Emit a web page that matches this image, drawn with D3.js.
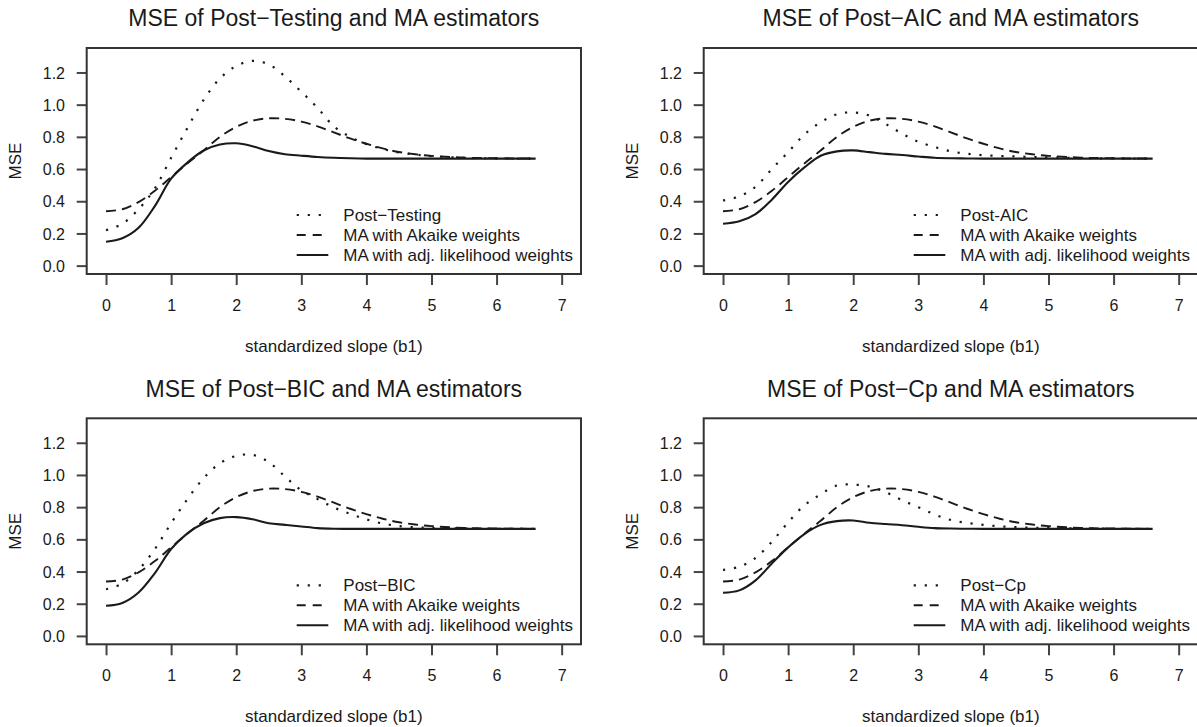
<!DOCTYPE html>
<html>
<head>
<meta charset="utf-8">
<script src="https://cdn.jsdelivr.net/npm/d3@7"></script>
<style>
  body { margin: 0; background: #fff; }
  svg { display: block; font-family: 'Liberation Sans', Arial, sans-serif; }
</style>
</head>
<body>
<svg id="chart"></svg>
<script>
// standardized slope values where the MSE curves were read
const slopeGrid = [0, 0.25, 0.5, 0.75, 1, 1.25, 1.5, 1.75, 2, 2.25, 2.5, 2.75, 3,
  3.25, 3.5, 3.75, 4, 4.25, 4.5, 4.75, 5, 5.5, 6, 6.6];

// MA with Akaike weights (same in all four panels)
const akaikeMSE = [0.338, 0.35, 0.395, 0.465, 0.55, 0.635, 0.715, 0.8, 0.862, 0.9, 0.915, 0.912, 0.895,
  0.865, 0.828, 0.79, 0.757, 0.728, 0.706, 0.692, 0.682, 0.671, 0.667, 0.665];

const testingMSE = [0.22, 0.26, 0.35, 0.48, 0.67, 0.855, 1.03, 1.163, 1.24, 1.272, 1.25, 1.175, 1.08,
  0.98, 0.865, 0.8, 0.755, 0.725, 0.703, 0.69, 0.68, 0.67, 0.666, 0.665];
const testingAdjMSE = [0.148, 0.17, 0.235, 0.37, 0.54, 0.64, 0.715, 0.752, 0.76, 0.742, 0.712, 0.692, 0.683,
  0.675, 0.67, 0.667, 0.665, 0.665, 0.665, 0.665, 0.665, 0.665, 0.665, 0.665];

const aicMSE = [0.405, 0.43, 0.49, 0.6, 0.705, 0.815, 0.89, 0.94, 0.952, 0.932, 0.88, 0.82, 0.77,
  0.737, 0.71, 0.695, 0.686, 0.681, 0.678, 0.675, 0.672, 0.668, 0.666, 0.665];
const aicAdjMSE = [0.26, 0.275, 0.32, 0.41, 0.52, 0.61, 0.683, 0.71, 0.716, 0.705, 0.694, 0.687, 0.678,
  0.67, 0.667, 0.666, 0.665, 0.665, 0.665, 0.665, 0.665, 0.665, 0.665, 0.665];

const bicMSE = [0.29, 0.325, 0.41, 0.54, 0.7, 0.85, 0.98, 1.073, 1.118, 1.125, 1.08, 0.99, 0.905,
  0.85, 0.798, 0.758, 0.724, 0.698, 0.683, 0.675, 0.671, 0.667, 0.665, 0.665];
const bicAdjMSE = [0.187, 0.205, 0.27, 0.39, 0.54, 0.637, 0.7, 0.732, 0.738, 0.725, 0.7, 0.69, 0.68,
  0.67, 0.666, 0.665, 0.665, 0.665, 0.665, 0.665, 0.665, 0.665, 0.665, 0.665];

const cpMSE = [0.41, 0.43, 0.485, 0.585, 0.705, 0.812, 0.88, 0.935, 0.94, 0.928, 0.893, 0.843, 0.8,
  0.755, 0.72, 0.702, 0.69, 0.681, 0.676, 0.672, 0.67, 0.667, 0.666, 0.665];
const cpAdjMSE = [0.268, 0.283, 0.345, 0.45, 0.55, 0.633, 0.69, 0.713, 0.717, 0.703, 0.695, 0.688, 0.678,
  0.67, 0.667, 0.666, 0.665, 0.665, 0.665, 0.665, 0.665, 0.665, 0.665, 0.665];

const panelTitles = [
  'MSE of Post\u2212Testing and MA estimators',
  'MSE of Post\u2212AIC and MA estimators',
  'MSE of Post\u2212BIC and MA estimators',
  'MSE of Post\u2212Cp and MA estimators'
];
const postLabels = ['Post\u2212Testing', 'Post-AIC', 'Post\u2212BIC', 'Post\u2212Cp'];
const maLabels = ['MA with Akaike weights', 'MA with adj. likelihood weights'];
const postSeries = [testingMSE, aicMSE, bicMSE, cpMSE];
const adjSeries = [testingAdjMSE, aicAdjMSE, bicAdjMSE, cpAdjMSE];

const xTicks = [0, 1, 2, 3, 4, 5, 6, 7];
const yTicks = [0, 0.2, 0.4, 0.6, 0.8, 1.0, 1.2];

const width = 1197;
const height = 727;
const panelStep = { x: 617, y: 370.3 };
const box = { left: 86.7, top: 48, width: 494.3, height: 226 };

const ink = '#1a1a1a';
const styles = [
  { dash: '2.2,8.8', width: 2.2 },   // post-selection estimator, dotted
  { dash: '10,6', width: 1.9 },      // Akaike weights, dashed
  { dash: null, width: 2.1 }         // adj. likelihood weights, solid
];

function MsePanel() {
  let title;
  let labels;
  let series;
  const xScale = d3.scaleLinear().domain([-0.297, 7.297]).range([0, box.width]);
  const yScale = d3.scaleLinear().domain([-0.052, 1.352]).range([box.height, 0]);

  function my(selection) {
    selection.each(function () {
      const g = d3.select(this);

      const line = d3.line()
        .curve(d3.curveCatmullRom.alpha(0.5))
        .x(d => xScale(d[0]))
        .y(d => yScale(d[1]));

      g.append('text')
        .attr('x', box.width / 2)
        .attr('y', -29.7)
        .attr('dy', '0.35em')
        .attr('text-anchor', 'middle')
        .attr('font-size', 23)
        .attr('fill', ink)
        .text(title);

      const yAxis = g.append('g')
        .attr('font-family', null)
        .call(d3.axisLeft(yScale)
                .tickValues(yTicks)
                .tickFormat(d3.format('.1f'))
                .tickSize(10)
                .tickPadding(11.7));
      yAxis.attr('font-family', null);
      yAxis.select('.domain').remove();
      yAxis.selectAll('line').attr('stroke', '#444').attr('stroke-width', 2);
      yAxis.selectAll('text')
        .attr('dy', '0.35em')
        .attr('font-size', 16)
        .attr('fill', ink);

      const xAxis = g.append('g')
        .attr('transform', `translate(0, ${box.height})`)
        .call(d3.axisBottom(xScale)
                .tickValues(xTicks)
                .tickSize(11));
      xAxis.attr('font-family', null);
      xAxis.select('.domain').remove();
      xAxis.selectAll('line').attr('stroke', '#444').attr('stroke-width', 2);
      xAxis.selectAll('text')
        .attr('y', 31)
        .attr('dy', '0.35em')
        .attr('font-size', 16)
        .attr('fill', ink);

      g.append('rect')
        .attr('width', box.width)
        .attr('height', box.height)
        .attr('fill', 'none')
        .attr('stroke', '#333')
        .attr('stroke-width', 2);

      series.forEach((values, i) => {
        g.append('path')
          .datum(slopeGrid.map((s, j) => [s, values[j]]))
          .attr('fill', 'none')
          .attr('stroke', ink)
          .attr('stroke-width', styles[i].width)
          .attr('stroke-dasharray', styles[i].dash)
          .attr('d', line);
      });

      const legend = g.append('g')
        .attr('transform', 'translate(210, 167)');
      labels.forEach((label, i) => {
        const row = legend.append('g').attr('transform', `translate(0, ${i * 20})`);
        row.append('line')
          .attr('x1', 0)
          .attr('x2', 31.6)
          .attr('stroke', ink)
          .attr('stroke-width', styles[i].width)
          .attr('stroke-dasharray', i === 1 ? '9,7' : styles[i].dash);
        row.append('text')
          .attr('x', 46.6)
          .attr('dy', '0.35em')
          .attr('font-size', 17)
          .attr('fill', ink)
          .text(label);
      });

      g.append('text')
        .attr('x', box.width / 2)
        .attr('y', box.height + 72)
        .attr('dy', '0.35em')
        .attr('text-anchor', 'middle')
        .attr('font-size', 17)
        .attr('fill', ink)
        .text('standardized slope (b1)');

      g.append('text')
        .attr('transform', `translate(-71.4, ${box.height / 2}) rotate(-90)`)
        .attr('dy', '0.35em')
        .attr('text-anchor', 'middle')
        .attr('font-size', 17)
        .attr('fill', ink)
        .text('MSE');
    });
  }

  my.title = function (_) {
    return arguments.length ? (title = _, my) : title;
  };

  my.labels = function (_) {
    return arguments.length ? (labels = _, my) : labels;
  };

  my.series = function (_) {
    return arguments.length ? (series = _, my) : series;
  };

  return my;
}

const svg = d3.select('#chart')
  .attr('width', width)
  .attr('height', height);

panelTitles.forEach((t, i) => {
  const col = i % 2;
  const row = Math.floor(i / 2);
  const panel = MsePanel()
    .title(t)
    .labels([postLabels[i]].concat(maLabels))
    .series([postSeries[i], akaikeMSE, adjSeries[i]]);

  svg.append('g')
    .attr('transform', `translate(${col * panelStep.x + box.left}, ${row * panelStep.y + box.top})`)
    .call(panel);
});
</script>
</body>
</html>
